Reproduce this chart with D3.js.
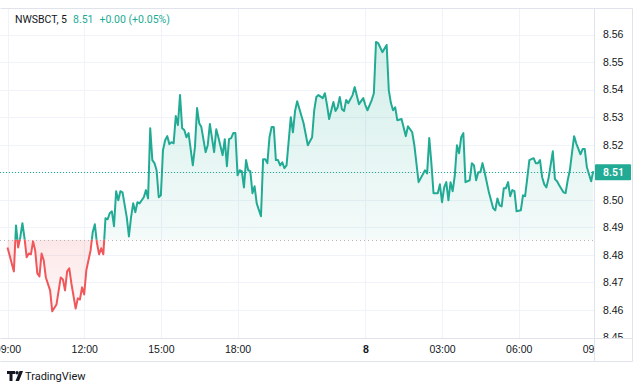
<!DOCTYPE html>
<html>
<head>
<meta charset="utf-8">
<script src="https://cdn.jsdelivr.net/npm/d3@7"></script>
<style>
  body { margin: 0; background: #fff; }
  svg { display: block; font-family: Roboto, "Noto Sans", sans-serif; }
</style>
</head>
<body>
<svg id="chart"></svg>
<script>
// 5-minute bar index since 09:00 (overnight break removed), and closing price
const barIndex = [
  0,3,4,5,6,7,8,9,10,11,
  12,13,14,15,16,17,18,20,21,23,
  25,26,27,28,29,30,32,33,34,35,
  36,37,39,40,41,42,43,44,45,46,
  47,48,49,50,51,52,53,54,56,57,
  58,59,60,61,62,64,65,66,67,68,
  69,70,71,72,73,74,75,76,77,78,
  79,80,81,82,83,84,85,87,88,89,
  90,91,93,94,95,97,98,99,101,102,
  103,104,105,106,107,108,109,110,111,112,
  113,114,115,116,117,119,120,121,122,123,
  124,125,126,127,128,129,130,131,133,134,
  135,136,139,141,143,144,145,146,148,149,
  150,151,153,154,155,156,157,158,159,160,
  162,163,165,167,168,169,171,172,173,174,
  176,178,179,180,181,182,183,185,187,188,
  190,191,193,196,197,198,199,200,202,203,
  204,205,206,207,208,209,210,211,212,213,
  214,215,217,218,219,220,221,222,223,224,
  226,228,229,230,231,232,233,234,235,236,
  237,238,239,241,242,243,244,245,247,248,
  249,250,251,252,253,254,256,257,258,259,
  261,262,263,264,265,266,267,269,270,271,
  272,274,275
];
const prices = [
  8.4827,8.4740,8.4907,8.4827,8.4864,8.4915,8.4860,8.4791,8.4805,8.4802,
  8.4849,8.4816,8.4733,8.4722,8.4805,8.4780,8.4718,8.4671,8.4595,8.4620,
  8.4718,8.4711,8.4671,8.4740,8.4751,8.4696,8.4605,8.4642,8.4638,8.4682,
  8.4656,8.4744,8.4816,8.4882,8.4911,8.4842,8.4802,8.4824,8.4802,8.4933,
  8.4929,8.4951,8.4958,8.4904,8.5031,8.4998,8.5031,8.5027,8.4936,8.4867,
  8.4936,8.4987,8.4955,8.4991,8.4987,8.5009,8.5035,8.5005,8.5260,8.5144,
  8.5133,8.5107,8.5009,8.5016,8.5180,8.5216,8.5231,8.5202,8.5209,8.5205,
  8.5304,8.5271,8.5380,8.5260,8.5253,8.5227,8.5242,8.5125,8.5191,8.5333,
  8.5278,8.5264,8.5173,8.5198,8.5275,8.5173,8.5256,8.5227,8.5162,8.5220,
  8.5122,8.5220,8.5224,8.5242,8.5242,8.5089,8.5107,8.5104,8.5045,8.5144,
  8.5107,8.5104,8.5024,8.5049,8.4987,8.4940,8.5147,8.5147,8.5133,8.5227,
  8.5264,8.5264,8.5144,8.5144,8.5125,8.5136,8.5115,8.5125,8.5300,8.5245,
  8.5322,8.5358,8.5278,8.5198,8.5227,8.5325,8.5373,8.5380,8.5369,8.5387,
  8.5344,8.5293,8.5355,8.5322,8.5336,8.5373,8.5329,8.5322,8.5362,8.5351,
  8.5380,8.5409,8.5347,8.5369,8.5344,8.5325,8.5362,8.5387,8.5573,8.5569,
  8.5536,8.5562,8.5398,8.5351,8.5325,8.5336,8.5289,8.5293,8.5231,8.5267,
  8.5245,8.5198,8.5064,8.5107,8.5096,8.5224,8.5133,8.5024,8.5024,8.5056,
  8.4991,8.5045,8.5064,8.4998,8.5064,8.5031,8.5089,8.5198,8.5169,8.5227,
  8.5242,8.5064,8.5071,8.5133,8.5125,8.5071,8.5100,8.5100,8.5133,8.5100,
  8.5027,8.4969,8.4962,8.5005,8.4980,8.4976,8.5042,8.5042,8.5064,8.5013,
  8.5035,8.5031,8.4958,8.4962,8.5016,8.5013,8.5078,8.5144,8.5151,8.5133,
  8.5133,8.5144,8.5082,8.5056,8.5045,8.5078,8.5176,8.5075,8.5067,8.5053,
  8.5027,8.5024,8.5071,8.5107,8.5169,8.5231,8.5205,8.5165,8.5184,8.5184,
  8.5118,8.5067,8.5104
];

const timeTicks = [0, 36, 72, 108, 168, 204, 240, 276];
const timeLabels = ["09:00", "12:00", "15:00", "18:00", "8", "03:00", "06:00", "09:00"];
const priceTicks = [8.45, 8.46, 8.47, 8.48, 8.49, 8.50, 8.51, 8.52, 8.53, 8.54, 8.55, 8.56, 8.57];

const baseValue = 8.4855;
const lastPrice = 8.51;
const symbol = "NWSBCT, 5";
const lastText = "8.51";
const changeText = "+0.00 (+0.05%)";

const width = 640;
const height = 391;
const paneTop = 8;
const paneBottom = 338;
const paneRight = 594;
const axisRight = 632;
const timeBottom = 361;

const teal = "#22ab94";
const red = "#f0575a";
const gridColor = "#f0f3fa";
const borderColor = "#e0e3eb";
const textColor = "#131722";

let values = barIndex.map((b, i) => ({ bar: b, price: prices[i] }));

let svg = d3.select("#chart").attr("width", width).attr("height", height);

let xScale = d3.scaleLinear().domain([0, 276]).range([7.5, 595.4]);
let yScale = d3.scaleLinear().domain([8.45, 8.56]).range([337.5, 34.5]);
let yBase = yScale(baseValue);

let defs = svg.append("defs");

defs.append("clipPath").attr("id", "pane")
  .append("rect").attr("x", 0).attr("y", paneTop).attr("width", paneRight).attr("height", paneBottom - paneTop);
defs.append("clipPath").attr("id", "above")
  .append("rect").attr("x", 0).attr("y", paneTop).attr("width", paneRight).attr("height", yBase - paneTop);
defs.append("clipPath").attr("id", "below")
  .append("rect").attr("x", 0).attr("y", yBase).attr("width", paneRight).attr("height", paneBottom - yBase);
defs.append("clipPath").attr("id", "priceAxis")
  .append("rect").attr("x", paneRight).attr("y", paneTop).attr("width", axisRight - paneRight).attr("height", paneBottom - paneTop);

let gTop = defs.append("linearGradient").attr("id", "topFill")
  .attr("gradientUnits", "userSpaceOnUse")
  .attr("x1", 0).attr("x2", 0).attr("y1", yScale(d3.max(prices))).attr("y2", yBase);
gTop.append("stop").attr("offset", 0).attr("stop-color", teal).attr("stop-opacity", 0.2);
gTop.append("stop").attr("offset", 1).attr("stop-color", teal).attr("stop-opacity", 0.05);

let gBot = defs.append("linearGradient").attr("id", "botFill")
  .attr("gradientUnits", "userSpaceOnUse")
  .attr("x1", 0).attr("x2", 0).attr("y1", yBase).attr("y2", yScale(d3.min(prices)));
gBot.append("stop").attr("offset", 0).attr("stop-color", red).attr("stop-opacity", 0.14);
gBot.append("stop").attr("offset", 1).attr("stop-color", red).attr("stop-opacity", 0.04);

// grid
let grid = svg.append("g").attr("clip-path", "url(#pane)");
grid.selectAll(".hgrid")
  .data(priceTicks)
  .enter()
  .append("line")
  .attr("x1", 0).attr("x2", paneRight)
  .attr("y1", (d) => Math.round(yScale(d)) + 0.5)
  .attr("y2", (d) => Math.round(yScale(d)) + 0.5)
  .attr("stroke", gridColor);
grid.selectAll(".vgrid")
  .data(timeTicks)
  .enter()
  .append("line")
  .attr("x1", (d) => Math.round(xScale(d)) + 0.5)
  .attr("x2", (d) => Math.round(xScale(d)) + 0.5)
  .attr("y1", 0).attr("y2", paneBottom)
  .attr("stroke", gridColor);

// series
let area = d3.area()
  .x((d) => xScale(d.bar))
  .y0(yBase)
  .y1((d) => yScale(d.price));
let line = d3.line()
  .x((d) => xScale(d.bar))
  .y((d) => yScale(d.price));

let plot = svg.append("g").attr("clip-path", "url(#pane)");

plot.append("g").attr("clip-path", "url(#above)")
  .append("path").attr("d", area(values)).attr("fill", "url(#topFill)");
plot.append("g").attr("clip-path", "url(#below)")
  .append("path").attr("d", area(values)).attr("fill", "url(#botFill)");

// base line (dotted)
plot.append("line")
  .attr("x1", 0).attr("x2", paneRight)
  .attr("y1", Math.round(yBase) + 0.5).attr("y2", Math.round(yBase) + 0.5)
  .attr("stroke", "#b2b5be")
  .attr("stroke-width", 1)
  .attr("stroke-dasharray", "1 3");

// last price line (dotted)
plot.append("line")
  .attr("x1", 0).attr("x2", paneRight)
  .attr("y1", Math.round(yScale(lastPrice)) + 0.5).attr("y2", Math.round(yScale(lastPrice)) + 0.5)
  .attr("stroke", teal)
  .attr("stroke-width", 1)
  .attr("stroke-dasharray", "1 2");

plot.append("g").attr("clip-path", "url(#above)")
  .append("path").attr("d", line(values))
  .attr("fill", "none").attr("stroke", teal).attr("stroke-width", 2).attr("stroke-linejoin", "round");
plot.append("g").attr("clip-path", "url(#below)")
  .append("path").attr("d", line(values))
  .attr("fill", "none").attr("stroke", red).attr("stroke-width", 2).attr("stroke-linejoin", "round");

// price axis
let yAxis = d3.axisRight(yScale)
  .tickValues(priceTicks.filter((d) => d < 8.565))
  .tickFormat(d3.format(".2f"))
  .tickSize(0)
  .tickPadding(9);
let yAxisG = svg.append("g")
  .attr("clip-path", "url(#priceAxis)")
  .append("g")
  .attr("transform", "translate(" + paneRight + ",0)")
  .call(yAxis);
yAxisG.select(".domain").remove();
yAxisG.selectAll("text")
  .attr("fill", textColor)
  .style("font-size", "10.5px");

// last price label
svg.append("rect")
  .attr("x", paneRight + 1).attr("y", yScale(lastPrice) - 8)
  .attr("width", axisRight - paneRight - 2).attr("height", 16)
  .attr("rx", 1)
  .attr("fill", teal);
svg.append("text")
  .attr("x", paneRight + 9).attr("y", yScale(lastPrice))
  .attr("dy", "0.35em")
  .attr("fill", "#fff")
  .style("font-size", "10.5px")
  .style("font-weight", "600")
  .text(lastText);

// time axis
let xAxis = d3.axisBottom(xScale)
  .tickValues(timeTicks)
  .tickFormat((d, i) => timeLabels[i])
  .tickSize(0)
  .tickPadding(8);
let xAxisG = svg.append("g")
  .attr("transform", "translate(0," + paneBottom + ")")
  .call(xAxis);
xAxisG.select(".domain").remove();
xAxisG.selectAll("text")
  .attr("fill", textColor)
  .style("font-size", "10.5px")
  .style("font-weight", (d, i) => timeLabels[i] === "8" ? "700" : "400");

// cover where time axis meets price axis
svg.append("rect")
  .attr("x", paneRight + 0.5).attr("y", paneBottom + 0.5)
  .attr("width", axisRight - paneRight).attr("height", timeBottom - paneBottom)
  .attr("fill", "#fff");

// borders
let borders = [
  [0, paneTop, axisRight, paneTop],
  [0, paneBottom, axisRight, paneBottom],
  [0, timeBottom, axisRight, timeBottom],
  [paneRight, paneTop, paneRight, timeBottom],
  [axisRight, paneTop, axisRight, timeBottom]
];
svg.selectAll(".border")
  .data(borders)
  .enter()
  .append("line")
  .attr("x1", (d) => d[0] + 0.5).attr("y1", (d) => d[1] + 0.5)
  .attr("x2", (d) => d[2] + 0.5).attr("y2", (d) => d[3] + 0.5)
  .attr("stroke", borderColor);

// legend
let legend = svg.append("text")
  .attr("x", 15).attr("y", 23)
  .style("font-size", "10.5px");
legend.append("tspan").attr("fill", textColor).text(symbol);
legend.append("tspan").attr("dx", 6).attr("fill", teal).text(lastText);
legend.append("tspan").attr("dx", 6).attr("fill", teal).text(changeText);

// TradingView logo
let logo = svg.append("g").attr("fill", textColor);
logo.append("path").attr("d", "M7 371h8v3h-2.5v7h-3v-7h-2.5z");
logo.append("circle").attr("cx", 17).attr("cy", 372.8).attr("r", 1.7);
logo.append("path").attr("d", "M19.5 371h3.5l-4 10h-3.5z");
svg.append("text")
  .attr("x", 25).attr("y", 380)
  .attr("fill", textColor)
  .style("font-size", "11px")
  .text("TradingView");
</script>
</body>
</html>
